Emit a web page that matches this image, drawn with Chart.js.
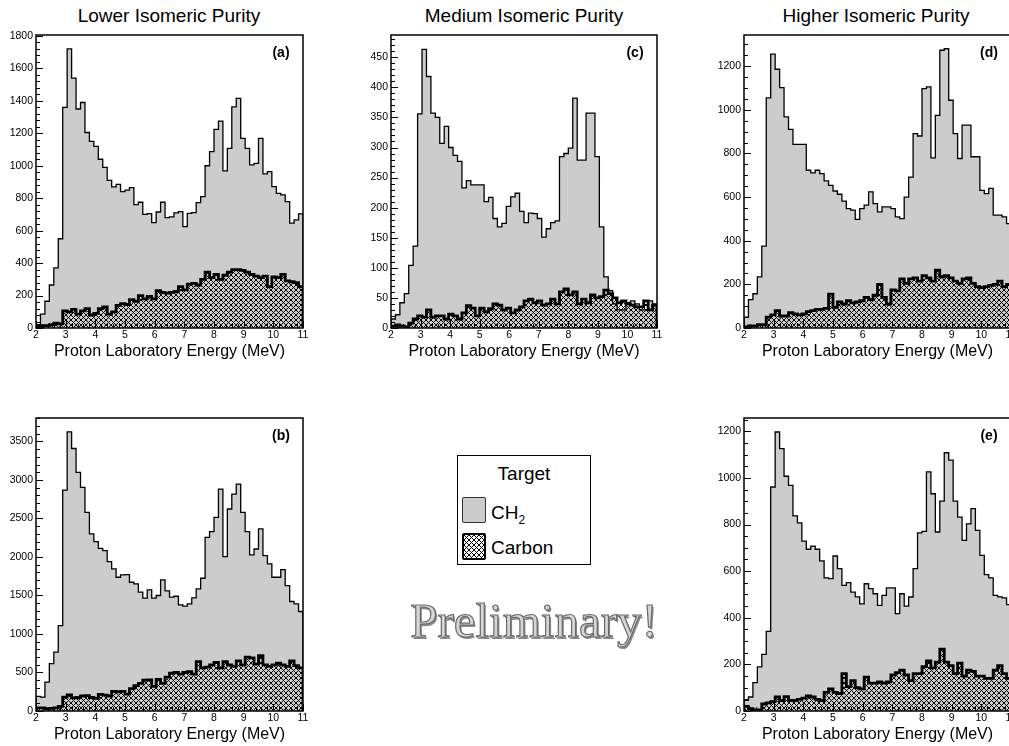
<!DOCTYPE html>
<html>
<head>
<meta charset="utf-8">
<script src="https://cdn.jsdelivr.net/npm/chart.js@4.4.1/dist/chart.umd.min.js"></script>
<style>
  html, body { margin: 0; padding: 0; background: #fff; }
  body { position: relative; width: 1009px; height: 746px; overflow: hidden; font-family: "Liberation Sans", Arial, Helvetica, sans-serif; color: #000; }
  canvas { position: absolute; }
  .title { position: absolute; top: 6px; font-size: 19px; line-height: 19px; white-space: nowrap; transform: translateX(-50%); }
  .tag { position: absolute; font-size: 14px; font-weight: bold; line-height: 14px; transform: translate(-50%, -50%); }
  #legend { position: absolute; left: 457px; top: 455px; width: 132px; height: 108px; border: 1px solid #000; }
  #legend .head { position: absolute; left: 0; width: 132px; top: 8px; text-align: center; font-size: 19px; line-height: 19px; }
  #legend .sw { position: absolute; left: 4px; width: 22px; height: 24px; border-radius: 2px; }
  #legend .txt { position: absolute; left: 33px; font-size: 19px; line-height: 19px; }
  #legend sub { font-size: 12px; vertical-align: -5px; line-height: 0; }
  #prelim { position: absolute; left: 534px; top: 596px; transform: translateX(-50%); white-space: nowrap;
    font-family: "Liberation Serif", "DejaVu Serif", serif; font-size: 49px; line-height: 49px;
    color: #d6d6d6; -webkit-text-stroke: 1.2px #6a6a6a; text-shadow: 1.5px 1.5px 0 #8a8a8a; }
</style>
</head>
<body>
<div class="title" style="left:169px">Lower Isomeric Purity</div>
<div class="title" style="left:524px">Medium Isomeric Purity</div>
<div class="title" style="left:876px">Higher Isomeric Purity</div>

<div id="legend">
  <div class="head">Target</div>
  <div class="sw" id="swCh2" style="top:41px; background:#cccccc; border:1px solid #333;"></div>
  <div class="txt" style="top:47px">CH<sub>2</sub></div>
  <div class="sw" id="swCarbon" style="top:77px; border:2px solid #000; width:20px; height:23px;"></div>
  <div class="txt" style="top:82px">Carbon</div>
</div>
<div id="prelim">Preliminary!</div>

<script>
// bins: 60 bins of 0.15 MeV from 2 to 11 MeV
const binLow = 2;
const binWidth = 0.15;
const energyTicks = [2, 3, 4, 5, 6, 7, 8, 9, 10, 11];

// (a) lower purity
const ch2A = [20, 85, 165, 265, 370, 550, 1360, 1720, 1540, 1350,
  1390, 1205, 1150, 1120, 1040, 990, 910, 870, 885, 840,
  850, 865, 760, 775, 700, 705, 650, 715, 775, 680,
  685, 710, 717, 625, 707, 711, 773, 810, 1000, 1087,
  1224, 1275, 968, 1107, 1363, 1415, 1169, 1107, 1005, 1015,
  1169, 950, 964, 871, 830, 820, 779, 646, 666, 703];
const carbonA = [10, 15, 15, 20, 30, 25, 105, 100, 115, 85,
  105, 120, 80, 90, 120, 130, 85, 100, 140, 150,
  145, 175, 165, 200, 180, 195, 180, 230, 220, 215,
  220, 225, 255, 235, 270, 275, 265, 300, 345, 310,
  330, 300, 325, 345, 360, 360, 355, 345, 330, 320,
  310, 320, 255, 315, 310, 330, 290, 285, 280, 255];
const ticksA = [0, 200, 400, 600, 800, 1000, 1200, 1400, 1600, 1800];

// (b) lower purity, second set
const ch2B = [190, 180, 376, 614, 765, 1110, 2869, 3625, 3409, 3098,
  2904, 2580, 2299, 2199, 2113, 2083, 1940, 1845, 1737, 1767,
  1772, 1672, 1651, 1543, 1465, 1573, 1465, 1500, 1702, 1560,
  1480, 1490, 1378, 1361, 1391, 1469, 1586, 1724, 2255, 2329,
  2515, 2882, 2005, 2623, 2817, 2947, 2580, 2329, 2027, 2104,
  2364, 2018, 1910, 1737, 1737, 1836, 1629, 1422, 1391, 1292];
const carbonB = [40, 40, 30, 35, 40, 60, 180, 210, 170, 175,
  195, 200, 175, 165, 215, 205, 195, 255, 250, 255,
  220, 290, 330, 360, 400, 405, 320, 410, 360, 440,
  490, 500, 480, 500, 510, 480, 640, 560, 570, 600,
  630, 560, 640, 600, 580, 650, 600, 700, 690, 610,
  720, 600, 580, 600, 620, 600, 580, 650, 590, 560];
const ticksB = [0, 500, 1000, 1500, 2000, 2500, 3000, 3500];

// (c) medium purity
const ch2C = [15, 22, 42, 57, 104, 136, 356, 463, 418, 357,
  350, 307, 335, 300, 287, 277, 233, 245, 238, 238,
  238, 210, 217, 182, 168, 174, 202, 218, 224, 194,
  175, 191, 190, 182, 151, 165, 175, 178, 285, 290,
  299, 382, 279, 279, 357, 357, 285, 168, 85, 62,
  40, 30, 30, 42, 45, 40, 30, 30, 45, 40];
const carbonC = [3, 5, 3, 2, 8, 15, 20, 18, 30, 18,
  20, 20, 15, 23, 20, 15, 25, 37, 33, 20,
  33, 27, 32, 40, 38, 30, 33, 25, 30, 35,
  45, 48, 42, 45, 38, 40, 48, 40, 60, 65,
  55, 60, 40, 48, 42, 55, 50, 52, 63, 57,
  50, 42, 45, 40, 38, 35, 35, 45, 30, 38];
const ticksC = [0, 50, 100, 150, 200, 250, 300, 350, 400, 450];

// (d) higher purity
const ch2D = [50, 130, 157, 234, 375, 1055, 1255, 1186, 1102, 968,
  910, 842, 842, 842, 723, 711, 723, 708, 674, 654,
  628, 613, 582, 547, 540, 498, 547, 563, 624, 570,
  532, 555, 555, 547, 509, 501, 600, 692, 891, 880,
  1097, 1105, 780, 975, 1273, 1280, 1044, 891, 777, 930,
  930, 785, 785, 631, 616, 640, 517, 517, 509, 478];
const carbonD = [5, 10, 10, 15, 15, 50, 60, 80, 55, 55,
  70, 65, 60, 65, 75, 80, 85, 85, 90, 155,
  95, 120, 110, 125, 115, 120, 125, 140, 130, 150,
  200, 140, 110, 175, 170, 225, 205, 225, 230, 215,
  240, 230, 215, 265, 235, 240, 230, 215, 205, 225,
  230, 205, 190, 185, 190, 195, 200, 215, 190, 200];
const ticksD = [0, 200, 400, 600, 800, 1000, 1200];

// (e) higher purity, second set
const ch2E = [46, 60, 122, 189, 243, 342, 961, 1197, 1126, 1007,
  968, 837, 807, 729, 694, 707, 694, 644, 571, 568,
  665, 611, 539, 551, 510, 490, 460, 546, 525, 503,
  453, 496, 528, 528, 418, 503, 450, 489, 611, 764,
  771, 1026, 932, 768, 900, 1108, 1076, 900, 832, 732,
  803, 868, 775, 668, 585, 571, 496, 490, 485, 456];
const carbonE = [20, 10, 5, 5, 30, 35, 40, 60, 45, 62,
  45, 45, 50, 55, 65, 60, 50, 45, 80, 95,
  80, 75, 160, 105, 130, 100, 95, 145, 120, 120,
  125, 120, 125, 155, 165, 175, 155, 130, 160, 160,
  190, 215, 185, 210, 265, 210, 195, 160, 205, 150,
  175, 170, 150, 150, 140, 140, 175, 195, 160, 140];
const ticksE = [0, 200, 400, 600, 800, 1000, 1200];

const panels = [
  { tag: '(a)', ch2: ch2A, carbon: carbonA, yTicks: ticksA, ymax: 1806, minor: 40, left: 36, top: 35, right: 303, bottom: 328 },
  { tag: '(c)', ch2: ch2C, carbon: carbonC, yTicks: ticksC, ymax: 487, minor: 10, left: 391, top: 35, right: 657, bottom: 328 },
  { tag: '(d)', ch2: ch2D, carbon: carbonD, yTicks: ticksD, ymax: 1343, minor: 50, left: 744, top: 35, right: 1011, bottom: 328 },
  { tag: '(b)', ch2: ch2B, carbon: carbonB, yTicks: ticksB, ymax: 3805, minor: 100, left: 36, top: 418, right: 303, bottom: 711 },
  { tag: '(e)', ch2: ch2E, carbon: carbonE, yTicks: ticksE, ymax: 1257, minor: 50, left: 744, top: 418, right: 1011, bottom: 711 }
];

Chart.defaults.font.family = '"Liberation Sans", Arial, Helvetica, sans-serif';
Chart.defaults.color = '#000';

// cross hatch tile
const tile = document.createElement('canvas');
tile.width = 10; tile.height = 10;
(() => {
  const g = tile.getContext('2d');
  g.strokeStyle = '#000';
  g.lineWidth = 1;
  for (let k = -10; k <= 20; k += 5) {
    g.beginPath(); g.moveTo(k, 0); g.lineTo(k + 10, 10); g.stroke();
    g.beginPath(); g.moveTo(k, 10); g.lineTo(k + 10, 0); g.stroke();
  }
})();
document.getElementById('swCarbon').style.backgroundImage = 'url(' + tile.toDataURL() + ')';

// histogram -> step points (left bin edges, closed at both ends)
function steps(vals) {
  const pts = [{ x: binLow, y: 0 }];
  vals.forEach((v, i) => pts.push({ x: binLow + i * binWidth, y: v }));
  pts.push({ x: binLow + vals.length * binWidth, y: vals[vals.length - 1] });
  pts.push({ x: binLow + vals.length * binWidth, y: 0 });
  return pts;
}

const frameTicks = {
  id: 'frameTicks',
  afterDatasetsDraw(chart, args, opts) {
    const { ctx, chartArea: area } = chart;
    const xs = chart.scales.x, ys = chart.scales.y;
    const majorStep = opts.major[1] - opts.major[0];
    ctx.save();
    ctx.strokeStyle = '#000';
    ctx.lineWidth = 1;
    ctx.beginPath();
    for (let k = 0; k * opts.minor <= ys.max; k++) {
      const v = k * opts.minor;
      const py = Math.round(ys.getPixelForValue(v)) + 0.5;
      const len = v % majorStep === 0 ? 7 : 4;
      ctx.moveTo(area.left, py);
      ctx.lineTo(area.left + len, py);
    }
    for (let k = 0; k <= 45; k++) {
      const px = Math.round(xs.getPixelForValue(2 + k * 0.2)) + 0.5;
      const len = k % 5 === 0 ? 7 : 4;
      ctx.moveTo(px, area.bottom);
      ctx.lineTo(px, area.bottom - len);
    }
    ctx.stroke();
    ctx.lineWidth = 1.5;
    ctx.strokeRect(area.left, area.top, area.right - area.left, area.bottom - area.top);
    ctx.restore();
  }
};

const axisW = 40, padR = 12, padT = 10, axisH = 33;

panels.forEach(p => {
  const cv = document.createElement('canvas');
  const w = axisW + (p.right - p.left) + padR;
  const h = padT + (p.bottom - p.top) + axisH;
  cv.width = w; cv.height = h;
  cv.style.width = w + 'px'; cv.style.height = h + 'px';
  cv.style.left = (p.left - axisW) + 'px';
  cv.style.top = (p.top - padT) + 'px';
  document.body.appendChild(cv);
  const ctx = cv.getContext('2d');

  new Chart(ctx, {
    type: 'line',
    data: {
      datasets: [
        {
          label: 'Carbon',
          data: steps(p.carbon),
          stepped: 'before',
          fill: 'origin',
          backgroundColor: ctx.createPattern(tile, 'repeat'),
          borderColor: '#000',
          borderWidth: 2.8,
          pointRadius: 0,
          order: 0
        },
        {
          label: 'CH2',
          data: steps(p.ch2),
          stepped: 'before',
          fill: 'origin',
          backgroundColor: '#cccccc',
          borderColor: '#000',
          borderWidth: 1.3,
          pointRadius: 0,
          order: 1
        }
      ]
    },
    options: {
      responsive: false,
      animation: false,
      events: [],
      layout: { padding: { top: padT, right: padR, left: 0, bottom: 0 } },
      plugins: {
        legend: { display: false },
        tooltip: { enabled: false },
        frameTicks: { major: p.yTicks, minor: p.minor }
      },
      scales: {
        x: {
          type: 'linear',
          min: 2,
          max: 11,
          grid: { display: false, drawTicks: false },
          border: { display: false },
          afterBuildTicks: s => { s.ticks = energyTicks.map(v => ({ value: v })); },
          afterFit: s => { s.height = axisH; },
          ticks: { font: { size: 10.5 }, color: '#000', padding: 1, maxRotation: 0, autoSkip: false, callback: v => String(v) },
          title: { display: true, text: 'Proton Laboratory Energy (MeV)', font: { size: 16 }, color: '#000', padding: 0 }
        },
        y: {
          min: 0,
          max: p.ymax,
          grid: { display: false, drawTicks: false },
          border: { display: false },
          afterBuildTicks: s => { s.ticks = p.yTicks.map(v => ({ value: v })); },
          afterFit: s => { s.width = axisW; },
          ticks: { font: { size: 10.5 }, color: '#000', padding: 3, autoSkip: false, callback: v => String(v) }
        }
      }
    },
    plugins: [frameTicks]
  });

  const tag = document.createElement('div');
  tag.className = 'tag';
  tag.textContent = p.tag;
  tag.style.left = (p.right - 22) + 'px';
  tag.style.top = (p.top + 17) + 'px';
  document.body.appendChild(tag);
});
</script>
</body>
</html>
